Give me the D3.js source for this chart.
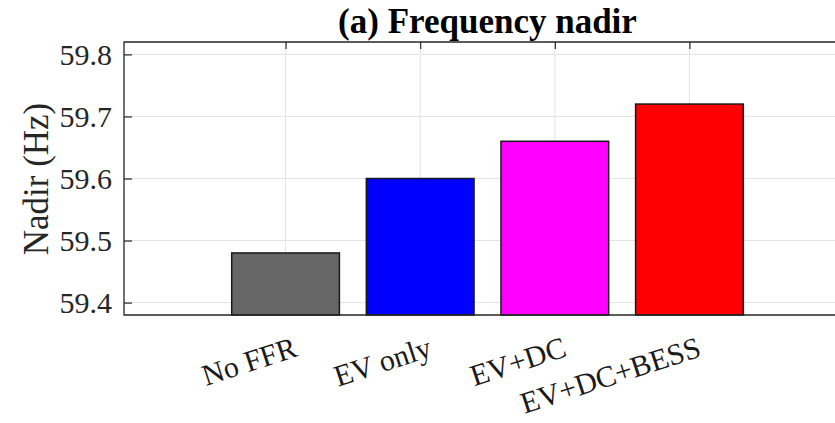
<!DOCTYPE html>
<html>
<head>
<meta charset="utf-8">
<script src="https://cdn.jsdelivr.net/npm/d3@7"></script>
<style>
  body { margin: 0; background: #fff; }
</style>
</head>
<body>
<svg id="chart" width="835" height="423"></svg>
<script>
  // data
  const categories = ['No FFR', 'EV only', 'EV+DC', 'EV+DC+BESS'];
  const nadir = [59.48, 59.60, 59.66, 59.72];
  const barColors = ['#666666', '#0000ff', '#ff00ff', '#ff0000'];
  const yTicks = [59.4, 59.5, 59.6, 59.7, 59.8];
  const xLimits = [-0.2, 5.2];
  const yLimits = [59.38, 59.82];

(function (d3) {
  'use strict';

  const FONT = 'Liberation Serif';
  const svg = d3.select('svg#chart').attr('font-family', FONT);
  const plot = { left: 124, right: 851, top: 42, bottom: 315 };

  const xScale = d3.scaleLinear().domain(xLimits).range([plot.left, plot.right]);
  const yScale = d3.scaleLinear().domain(yLimits).range([plot.bottom, plot.top]);
  const xTicks = categories.map((d, i) => i + 1);
  const barWidth = 0.8;

  // grid
  const grid = svg.append('g').attr('stroke', '#e3e3e3').attr('stroke-width', 1);
  grid.selectAll('.gy').data(yTicks).enter().append('line')
    .attr('x1', plot.left).attr('x2', plot.right)
    .attr('y1', d => yScale(d)).attr('y2', d => yScale(d));
  grid.selectAll('.gx').data(xTicks).enter().append('line')
    .attr('x1', d => xScale(d)).attr('x2', d => xScale(d))
    .attr('y1', plot.top).attr('y2', plot.bottom);

  const styleAxis = g => {
    g.select('.domain').remove();
    g.selectAll('line').attr('stroke', '#262626').attr('stroke-width', 1.2);
    g.attr('font-family', FONT).attr('font-size', 30);
    g.selectAll('text').attr('fill', '#262626').attr('font-family', FONT);
  };

  // axes (ticks inside)
  svg.append('g')
    .attr('transform', `translate(${plot.left},0)`)
    .call(d3.axisLeft(yScale).tickValues(yTicks).tickSize(-8).tickPadding(12).tickFormat(d3.format('.1f')))
    .call(styleAxis)
    .selectAll('text').attr('dy', '0.34em');

  svg.append('g')
    .attr('transform', `translate(0,${plot.top})`)
    .call(d3.axisTop(xScale).tickValues(xTicks).tickSize(-7).tickFormat(''))
    .call(styleAxis);

  svg.append('g')
    .attr('transform', `translate(0,${plot.bottom})`)
    .call(d3.axisBottom(xScale).tickValues(xTicks).tickSize(-7).tickFormat(''))
    .call(styleAxis);

  // bars
  svg.selectAll('rect.bar').data(nadir).enter().append('rect')
    .attr('class', 'bar')
    .attr('x', (d, i) => xScale(i + 1 - barWidth / 2))
    .attr('width', (d, i) => xScale(i + 1 + barWidth / 2) - xScale(i + 1 - barWidth / 2))
    .attr('y', d => yScale(d))
    .attr('height', d => plot.bottom - yScale(d))
    .attr('fill', (d, i) => barColors[i])
    .attr('stroke', '#1a1a1a')
    .attr('stroke-width', 1.5);

  // box
  svg.append('path')
    .attr('d', `M${plot.left},${plot.top}H${plot.right}V${plot.bottom}H${plot.left}Z`)
    .attr('fill', 'none')
    .attr('stroke', '#262626')
    .attr('stroke-width', 1.3);

  // rotated category labels
  svg.selectAll('text.xlab').data(categories).enter().append('text')
    .attr('class', 'xlab')
    .attr('transform', (d, i) => `translate(${xScale(i + 1) + 7},337) rotate(-18)`)
    .attr('dy', '0.66em')
    .attr('text-anchor', 'end')
    .attr('font-family', FONT)
    .attr('font-size', 30)
    .attr('fill', '#1a1a1a')
    .text(d => d);

  // y label
  svg.append('text')
    .attr('transform', `translate(48,179) rotate(-90)`)
    .attr('text-anchor', 'middle')
    .attr('font-family', FONT)
    .attr('font-size', 35)
    .attr('fill', '#262626')
    .text('Nadir (Hz)');

  // title
  svg.append('text')
    .attr('x', (plot.left + plot.right) / 2)
    .attr('y', 33)
    .attr('text-anchor', 'middle')
    .attr('font-family', FONT)
    .attr('font-size', 35)
    .attr('font-weight', 'bold')
    .attr('fill', '#000')
    .text('(a) Frequency nadir');

}(d3));
</script>
</body>
</html>
